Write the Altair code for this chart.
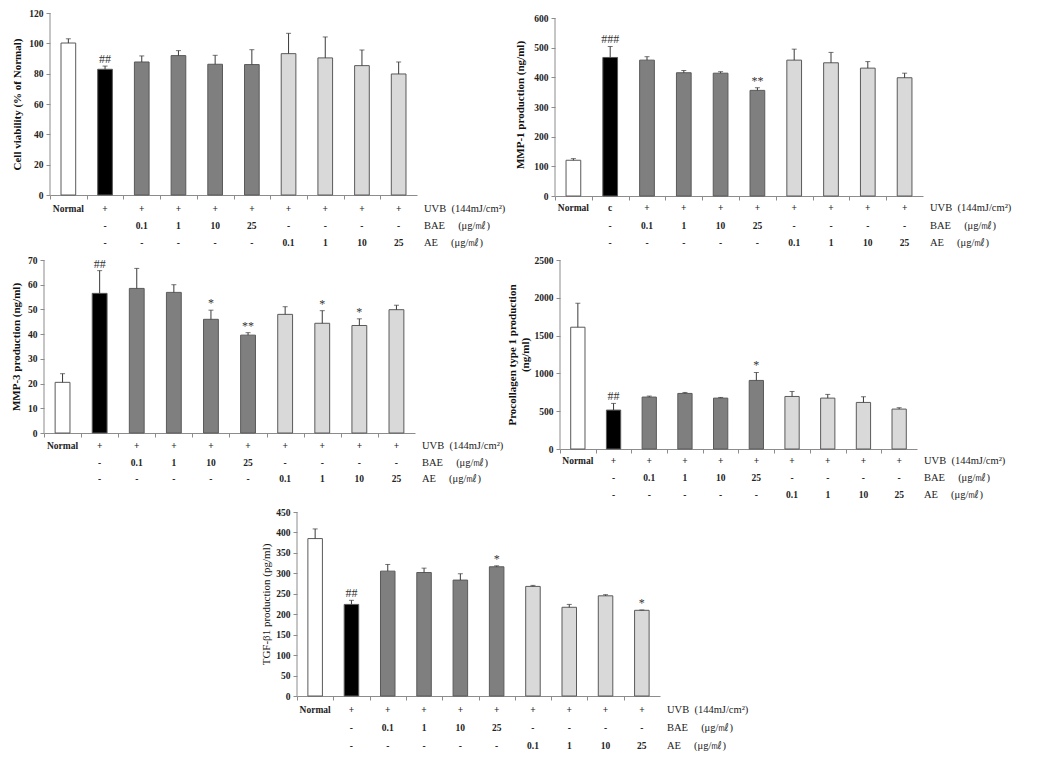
import altair as alt
import pandas as pd

# ---------------- data ----------------
categories = ["Normal", "UVB", "BAE 0.1", "BAE 1", "BAE 10", "BAE 25",
              "AE 0.1", "AE 1", "AE 10", "AE 25"]
groups = ["Normal", "UVB", "BAE", "BAE", "BAE", "BAE", "AE", "AE", "AE", "AE"]
uvb_row = ["Normal", "+", "+", "+", "+", "+", "+", "+", "+", "+"]
uvb_row_mmp1 = ["Normal", "c", "+", "+", "+", "+", "+", "+", "+", "+"]
bae_row = ["", "-", "0.1", "1", "10", "25", "-", "-", "-", "-"]
ae_row = ["", "-", "-", "-", "-", "-", "0.1", "1", "10", "25"]
NB = "\u00a0"
row_names = ["UVB" + NB * 2 + "(144mJ/cm²)", "BAE" + NB * 5 + "(μg/㎖)", "AE" + NB * 5 + "(μg/㎖)"]

viability_mean = [100.2, 82.9, 87.7, 91.9, 86.2, 86.0, 93.2, 90.4, 85.3, 79.8]
viability_err = [2.8, 2.1, 4.0, 3.3, 5.9, 9.8, 13.4, 13.8, 10.3, 7.9]
viability_sig = ["", "##", "", "", "", "", "", "", "", ""]

mmp1_mean = [120.5, 467, 458, 415.5, 414, 356, 458, 449, 431, 398.6]
mmp1_err = [5.5, 37, 11.6, 7.5, 5, 9, 37, 35, 22, 15.4]
mmp1_sig = ["", "###", "", "", "", "**", "", "", "", ""]

mmp3_mean = [20.5, 56.5, 58.5, 56.9, 46.0, 39.6, 48.0, 44.4, 43.5, 49.9]
mmp3_err = [3.5, 9.2, 8.1, 3.1, 3.7, 1.0, 3.1, 5.1, 2.7, 1.8]
mmp3_sig = ["", "##", "", "", "*", "**", "", "*", "*", ""]

procol_mean = [1611, 515, 687, 735, 673, 907, 695, 673, 616, 528]
procol_err = [317, 88, 13, 13, 9, 105, 66, 49, 75, 18]
procol_sig = ["", "##", "", "", "", "*", "", "", "", ""]

tgf_mean = [385, 224, 305.4, 302, 283.5, 316, 268, 217, 245, 209.6]
tgf_err = [23.6, 10, 16.3, 10.7, 15.5, 2.4, 2.5, 7, 2.8, 0.8]
tgf_sig = ["", "##", "", "", "", "*", "", "", "", "*"]

group_names = ["Normal", "UVB", "BAE", "AE"]
group_fills = ["#ffffff", "#000000", "#7f7f7f", "#d9d9d9"]

SERIF = "Liberation Serif"
AXIS_GRAY = "#8c8c8c"
NOVIEW = alt.ViewBackground(stroke=None, fill=None, strokeWidth=0)


def panel(mean, err, sig, uvb, title, ymax, step, w, h, offs,
          title_weight="bold", top_gap=0, title_pad=8):
    df = pd.DataFrame({
        "cat": categories, "group": groups, "mean": mean, "err": err,
        "sig": sig, "uvb": uvb, "bae": bae_row, "ae": ae_row,
    })
    df["top"] = df["mean"] + df["err"]

    # optional empty gap above the highest tick (axis line stops at ymax)
    dom_max = ymax * (h + top_gap) / h
    H = h + top_gap

    xs = alt.Scale(domain=categories, paddingInner=0.6, paddingOuter=0.3)
    xaxis = alt.Axis(labels=False, title=None, domainColor=AXIS_GRAY, tickColor=AXIS_GRAY,
                     tickSize=4, tickOffset=-w / 20.0, grid=False, domainWidth=1)
    x = alt.X("cat:N", sort=categories, scale=xs, axis=xaxis)
    ys = alt.Scale(domain=[0, dom_max], nice=False, zero=True)
    yaxis = alt.Axis(title=title, values=list(range(0, ymax + 1, step)), grid=False,
                     format="d", domain=False, tickColor=AXIS_GRAY, tickSize=4,
                     labelFont=SERIF, labelFontWeight="bold", labelFontSize=9.5,
                     labelColor="#222222", labelPadding=3,
                     titleFont=SERIF, titleFontWeight=title_weight, titleFontSize=11,
                     titleColor="#111111", titlePadding=title_pad)

    base = alt.Chart(df).encode(x=x)
    yline = alt.Chart(pd.DataFrame({"y0": [0], "y1": [ymax]})).mark_rule(
        color=AXIS_GRAY, strokeWidth=1).encode(
        x=alt.value(0), y=alt.Y("y0:Q", scale=ys, axis=yaxis), y2="y1:Q")
    bars = base.mark_bar(stroke="#5a5a5a", strokeWidth=1).encode(
        y=alt.Y("mean:Q", scale=ys, axis=yaxis),
        fill=alt.Fill("group:N", scale=alt.Scale(domain=group_names, range=group_fills), legend=None),
    )
    rule = base.mark_rule(color="#3a3a3a", strokeWidth=1).encode(
        y=alt.Y("mean:Q", scale=ys, axis=yaxis), y2="top:Q")
    cap = base.mark_tick(color="#3a3a3a", size=5, thickness=1).encode(
        y=alt.Y("top:Q", scale=ys, axis=yaxis))
    stars = base.mark_text(font=SERIF, fontSize=12, color="#333333", baseline="alphabetic", dy=-3).encode(
        y=alt.Y("top:Q", scale=ys, axis=yaxis), text="sig:N")

    layers = [yline, bars, rule, cap, stars]
    for field, o in zip(["uvb", "bae", "ae"], offs):
        layers.append(base.mark_text(font=SERIF, fontSize=9.5, fontWeight="bold",
                                     color="#222222", baseline="middle").encode(
            y=alt.value(H + o), text=f"{field}:N"))

    one = pd.DataFrame({"k": [0]})
    for name, o in zip(row_names, offs):
        layers.append(alt.Chart(one).mark_text(font=SERIF, fontSize=10.5, color="#222222",
                                               align="left", baseline="middle").encode(
            x=alt.value(w + 7), y=alt.value(H + o), text=alt.value(name)))
    return alt.layer(*layers).properties(width=w, height=H, view=NOVIEW)


def spacer(w, h):
    return alt.Chart(pd.DataFrame({"a": [0]})).mark_text(text="", opacity=0).encode(
        x=alt.value(0), y=alt.value(0)).properties(width=w, height=h, view=NOVIEW)


p1 = panel(viability_mean, viability_err, viability_sig, uvb_row,
           "Cell viability (% of Normal)", 120, 20, 367, 182, [14, 31, 48], title_pad=6.5)
p2 = panel(mmp1_mean, mmp1_err, mmp1_sig, uvb_row_mmp1,
           "MMP-1 production (ng/ml)", 600, 100, 368, 178, [12, 30, 47], top_gap=5, title_pad=8.5)
p3 = panel(mmp3_mean, mmp3_err, mmp3_sig, uvb_row,
           "MMP-3 production (ng/ml)", 70, 10, 371, 173, [13, 30, 46], title_pad=6.5)
p4 = panel(procol_mean, procol_err, procol_sig, uvb_row,
           ["Procollagen type 1 production", "(ng/ml)"], 2500, 500, 357, 189, [12, 29, 46], title_pad=4)
p5 = panel(tgf_mean, tgf_err, tgf_sig, uvb_row,
           "TGF-β1 production (pg/ml)", 450, 50, 363, 184, [14, 32, 50],
           title_weight="normal", title_pad=4)

row1 = alt.hconcat(spacer(6, 1), p1, spacer(138, 1), p2, spacing=0, bounds="flush")
row2 = alt.hconcat(p3, spacer(145, 1), p4, spacing=0, bounds="flush")
row3 = alt.hconcat(spacer(253, 1), p5, spacing=0, bounds="flush")

chart = alt.vconcat(row1, row2, row3, spacing=5,
                    padding={"left": 2, "top": -1, "right": 5, "bottom": 0}
                    ).configure_view(stroke=None).configure(background="white")

chart.save("out.html", embed_options={"renderer": "svg", "actions": False})
